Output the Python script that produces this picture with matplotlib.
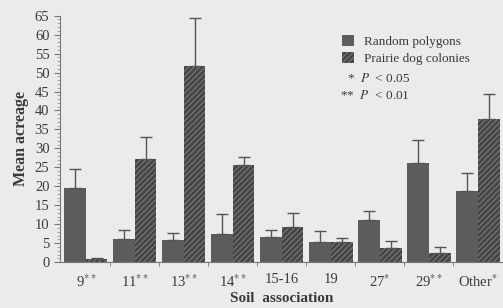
import numpy as np
import matplotlib
matplotlib.use('Agg')
from matplotlib import pyplot as plt
from matplotlib.patches import Patch
from matplotlib.ticker import MultipleLocator

plt.rcParams['font.family'] = ['Liberation Serif', 'DejaVu Serif']
plt.rcParams['mathtext.fontset'] = 'stix'
plt.rcParams['hatch.linewidth'] = 0.8

# data
soils = ["9", "11", "13", "14", "15-16", "19", "27", "29", "Other"]
signif = ["**", "**", "**", "**", "", "", "*", "**", "*"]
random_mean = [19.5, 6.1, 5.8, 7.4, 6.5, 5.2, 11.0, 26.1, 18.7]
random_se = [5.1, 2.5, 1.8, 5.4, 1.9, 3.0, 2.4, 6.0, 4.9]
prairie_mean = [0.8, 27.2, 51.8, 25.6, 9.2, 5.2, 3.7, 2.3, 37.8]
prairie_se = [0.4, 5.9, 12.6, 2.2, 3.8, 1.2, 1.9, 1.7, 6.6]

bg = '#ebebeb'
dark = '#3a3a3a'
fig = plt.figure(figsize=(5.03, 3.08), dpi=100, facecolor=bg)
ax = fig.add_axes([0.119, 0.149, 0.881, 0.8], facecolor=bg)

x = np.arange(len(soils))
w = 0.44
ax.bar(x - w/2, random_mean, w, color='#5c5c5c', linewidth=0)
ax.bar(x + w/2, prairie_mean, w, color='#454545', edgecolor='#7a7a7a',
       hatch='//////', linewidth=0)
zeros = np.zeros(len(soils))
ax.errorbar(x - w/2, random_mean, yerr=[zeros, random_se], fmt='none',
            ecolor='#555555', elinewidth=1, capsize=4, capthick=1)
ax.errorbar(x + w/2, prairie_mean, yerr=[zeros, prairie_se], fmt='none',
            ecolor='#555555', elinewidth=1, capsize=4, capthick=1)

ax.set_xlim(-0.53, 8.51)
ax.set_ylim(0, 65)
ax.yaxis.set_major_locator(MultipleLocator(5))
ax.yaxis.set_minor_locator(MultipleLocator(1))
ax.set_xticks(x)
ax.set_xticklabels([s + ('$^{%s}$' % a if a else '') for s, a in zip(soils, signif)],
                   fontsize=10.5, color=dark)
ax.set_xticks(x[:-1] + 0.5, minor=True)
ax.tick_params(axis='x', which='major', length=0, pad=8)
ax.tick_params(axis='x', which='minor', length=3, color='#777777')
ax.tick_params(axis='y', which='major', length=4, labelsize=10.5,
               labelcolor=dark, color='#777777')
ax.tick_params(axis='y', which='minor', length=2, color='#999999')
for s in ['top', 'right']:
    ax.spines[s].set_visible(False)
for s in ['left', 'bottom']:
    ax.spines[s].set_color('#777777')

ax.set_ylabel('Mean acreage', fontsize=11.5, fontweight='bold', color=dark, labelpad=4)
ax.set_xlabel('Soil  association', fontsize=11, fontweight='bold', color=dark, labelpad=1.5)

handles = [Patch(facecolor='#5c5c5c', linewidth=0),
           Patch(facecolor='#454545', edgecolor='#7a7a7a', hatch='//////', linewidth=0)]
ax.legend(handles, ['Random polygons', 'Prairie dog colonies'], loc='upper left',
          bbox_to_anchor=(0.61, 0.968), frameon=False, fontsize=9.5,
          handlelength=0.9, handleheight=0.9, handletextpad=0.8, labelspacing=0.3,
          labelcolor=dark)
ax.text(0.648, 0.747, '*  $P$  < 0.05', transform=ax.transAxes, fontsize=9.5,
        color=dark, ha='left', va='center')
ax.text(0.633, 0.678, '**  $P$  < 0.01', transform=ax.transAxes, fontsize=9.5,
        color=dark, ha='left', va='center')

fig.savefig('out.png', dpi=100, facecolor=bg)
